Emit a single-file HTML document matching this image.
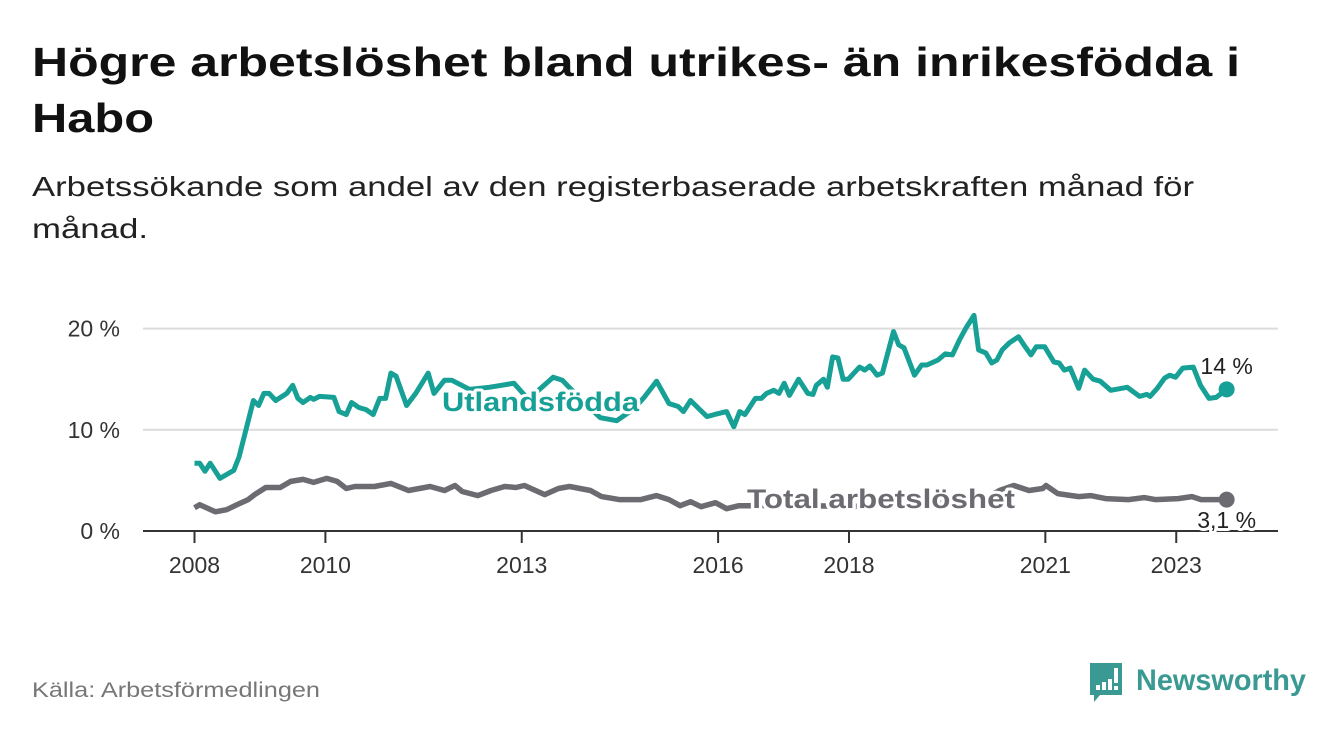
<!DOCTYPE html>
<html><head><meta charset="utf-8"><style>
html,body{margin:0;padding:0;background:#fff;}
svg{display:block;font-family:"Liberation Sans",sans-serif;}
</style></head><body>
<svg id="chart" width="1340" height="734" viewBox="0 0 1340 734">
<text x="32" y="76" font-size="41" font-weight="bold" fill="#111" textLength="1208" lengthAdjust="spacingAndGlyphs">Högre arbetslöshet bland utrikes- än inrikesfödda i</text>
<text x="32" y="132" font-size="41" font-weight="bold" fill="#111" textLength="122" lengthAdjust="spacingAndGlyphs">Habo</text>
<text x="32" y="196" font-size="28" fill="#222" textLength="1162" lengthAdjust="spacingAndGlyphs">Arbetssökande som andel av den registerbaserade arbetskraften månad för</text>
<text x="32" y="238" font-size="28" fill="#222" textLength="116" lengthAdjust="spacingAndGlyphs">månad.</text>
<g id="grid"></g>
<g id="xaxis"></g>
<g id="lines"></g>
<g id="labels"></g>
<text x="32" y="697" font-size="21" fill="#777" textLength="288" lengthAdjust="spacingAndGlyphs">Källa: Arbetsförmedlingen</text>
<g>
<path d="M1090 663 h32 v32 h-22 l-6 7 v-7 h-4 z" fill="#3a9a93"/>
<rect x="1096" y="685" width="4" height="5" fill="#fff"/>
<rect x="1102" y="682" width="4" height="8" fill="#fff"/>
<rect x="1108" y="679" width="4" height="11" fill="#fff"/>
<rect x="1114" y="668" width="4" height="15" fill="#fff"/>
<rect x="1114" y="686" width="4" height="4" fill="#fff"/>
<text x="1136" y="690" font-size="30" font-weight="bold" fill="#3a9a93" textLength="170" lengthAdjust="spacingAndGlyphs">Newsworthy</text>
</g>
</svg>
<script>
const yTicks=[0,10,20];
const yTickLabels=["0 %","10 %","20 %"];
const xTicks=[2008,2010,2013,2016,2018,2021,2023];
const utlDates=[2008.0,2008.08,2008.16,2008.24,2008.39,2008.6,2008.68,2008.9,2008.98,2009.06,2009.14,2009.24,2009.41,2009.5,2009.58,2009.66,2009.77,2009.82,2009.91,2010.13,2010.21,2010.32,2010.4,2010.51,2010.62,2010.73,2010.83,2010.92,2011.0,2011.08,2011.24,2011.38,2011.57,2011.66,2011.82,2011.93,2012.2,2012.5,2012.69,2012.88,2013.1,2013.48,2013.62,2013.9,2014.2,2014.45,2014.7,2014.87,2015.06,2015.25,2015.39,2015.47,2015.58,2015.72,2015.83,2015.94,2016.13,2016.24,2016.33,2016.41,2016.57,2016.66,2016.74,2016.85,2016.93,2017.01,2017.09,2017.23,2017.37,2017.45,2017.5,2017.61,2017.67,2017.75,2017.83,2017.91,2017.99,2018.16,2018.24,2018.32,2018.43,2018.51,2018.68,2018.76,2018.84,2019.0,2019.11,2019.19,2019.36,2019.47,2019.58,2019.69,2019.79,2019.91,2019.98,2020.09,2020.18,2020.26,2020.34,2020.45,2020.59,2020.67,2020.78,2020.86,2020.99,2021.13,2021.21,2021.29,2021.38,2021.51,2021.6,2021.73,2021.84,2022.0,2022.25,2022.44,2022.55,2022.6,2022.71,2022.82,2022.9,2022.99,2023.1,2023.26,2023.37,2023.5,2023.61,2023.77];
const utlValues=[6.7,6.7,5.9,6.7,5.2,6.0,7.3,12.9,12.4,13.6,13.6,12.9,13.6,14.4,13.1,12.7,13.2,13.0,13.3,13.2,11.8,11.5,12.7,12.2,12.0,11.5,13.1,13.1,15.6,15.3,12.4,13.6,15.6,13.6,14.9,14.9,14.0,14.2,14.4,14.6,13.0,15.2,14.9,13.0,11.2,10.9,12.0,13.2,14.8,12.6,12.3,11.8,12.9,12.0,11.3,11.5,11.8,10.3,11.8,11.5,13.1,13.1,13.6,13.9,13.6,14.6,13.4,15.0,13.6,13.5,14.4,15.0,14.2,17.2,17.1,15.0,15.0,16.2,15.9,16.3,15.4,15.6,19.7,18.4,18.1,15.4,16.4,16.4,16.9,17.5,17.4,18.9,20.1,21.3,17.9,17.6,16.6,16.9,17.9,18.6,19.2,18.4,17.4,18.2,18.2,16.7,16.6,15.9,16.1,14.1,15.9,15.0,14.8,13.9,14.2,13.3,13.5,13.3,14.1,15.1,15.4,15.2,16.1,16.2,14.4,13.1,13.2,14.0];
const totDates=[2008.0,2008.08,2008.32,2008.49,2008.65,2008.82,2008.92,2009.09,2009.31,2009.47,2009.66,2009.82,2010.02,2010.18,2010.32,2010.45,2010.75,2011.0,2011.27,2011.6,2011.82,2011.98,2012.09,2012.33,2012.53,2012.74,2012.91,2013.04,2013.35,2013.56,2013.73,2014.05,2014.22,2014.49,2014.82,2015.06,2015.25,2015.42,2015.58,2015.74,2015.96,2016.13,2016.32,2016.6,2017.0,2017.5,2018.0,2018.5,2019.0,2019.5,2020.0,2020.3,2020.52,2020.75,2020.96,2021.01,2021.19,2021.51,2021.69,2021.92,2022.27,2022.51,2022.68,2023.03,2023.24,2023.38,2023.77];
const totValues=[2.3,2.6,1.9,2.1,2.6,3.1,3.6,4.3,4.3,4.9,5.1,4.8,5.2,4.9,4.2,4.4,4.4,4.7,4.0,4.4,4.0,4.5,3.9,3.5,4.0,4.4,4.3,4.5,3.6,4.2,4.4,4.0,3.4,3.1,3.1,3.5,3.1,2.5,2.9,2.4,2.8,2.2,2.5,2.5,2.6,2.5,2.4,2.6,2.6,2.8,2.9,4.0,4.5,4.0,4.2,4.5,3.7,3.4,3.5,3.2,3.1,3.3,3.1,3.2,3.4,3.1,3.1];
const utlEndLabel="14 %", totEndLabel="3,1 %";
const NS="http://www.w3.org/2000/svg";
const X0=143,X1=1278;
function xs(t){return 194.5+(t-2008)*65.45;}
function ys(v){return 531-v*10.12;}
function mk(tag,attrs,parent){const e=document.createElementNS(NS,tag);for(const k in attrs)e.setAttribute(k,attrs[k]);parent.appendChild(e);return e;}
const grid=document.getElementById('grid');
yTicks.forEach((t,i)=>{
  if(t>0){const l=mk('line',{x1:X0,x2:X1,y1:ys(t),y2:ys(t),stroke:'#dcdcdc','stroke-width':2},grid);
  
  }
  const tx=mk('text',{x:120,y:ys(t)+8,'font-size':23,fill:'#333','text-anchor':'end'},grid);
  tx.textContent=yTickLabels[i];
  
  
});
const xa=document.getElementById('xaxis');
const ax=mk('line',{x1:X0,x2:X1,y1:531,y2:531,stroke:'#333','stroke-width':2},xa);


xTicks.forEach(t=>{
  const tk=mk('line',{x1:xs(t),x2:xs(t),y1:531,y2:543,stroke:'#333','stroke-width':2},xa);
  
  
  const tx=mk('text',{x:xs(t),y:573,'font-size':23,fill:'#333','text-anchor':'middle'},xa);
  tx.textContent=t;
  
  
});
function path(d,v){return d.map((t,i)=>(i?'L':'M')+xs(t).toFixed(1)+' '+ys(v[i]).toFixed(1)).join(' ');}
const lines=document.getElementById('lines');
const p1=mk('path',{d:path(utlDates,utlValues),fill:'none',stroke:'#17a095','stroke-width':5,'stroke-linejoin':'round'},lines);


const p2=mk('path',{d:path(totDates,totValues),fill:'none',stroke:'#6c6b71','stroke-width':5.5,'stroke-linejoin':'round'},lines);


const ul=utlDates.length-1,tl=totDates.length-1;
const d1=mk('circle',{cx:xs(utlDates[ul]),cy:ys(utlValues[ul]),r:8,fill:'#17a095'},lines);


const d2=mk('circle',{cx:xs(totDates[tl]),cy:ys(totValues[tl]),r:8,fill:'#6c6b71'},lines);


const lab=document.getElementById('labels');
function halo(txt,attrs){const e=mk('text',Object.assign({stroke:'#fff','stroke-width':6,'paint-order':'stroke','stroke-linejoin':'round'},attrs),lab);e.textContent=txt;return e;}
const l1=halo('Utlandsfödda',{x:442,y:411,'font-size':27,'font-weight':'bold',fill:'#17a095',textLength:197,lengthAdjust:'spacingAndGlyphs'});


const l2=halo('Total arbetslöshet',{x:747,y:508,'font-size':27,'font-weight':'bold',fill:'#6c6b71',textLength:268,lengthAdjust:'spacingAndGlyphs'});


const l3=halo(utlEndLabel,{x:xs(utlDates[ul]),y:374,'font-size':23,fill:'#222','text-anchor':'middle'});


const l4=halo(totEndLabel,{x:xs(totDates[tl]),y:528,'font-size':23,fill:'#222','text-anchor':'middle'});


</script>
</body></html>
